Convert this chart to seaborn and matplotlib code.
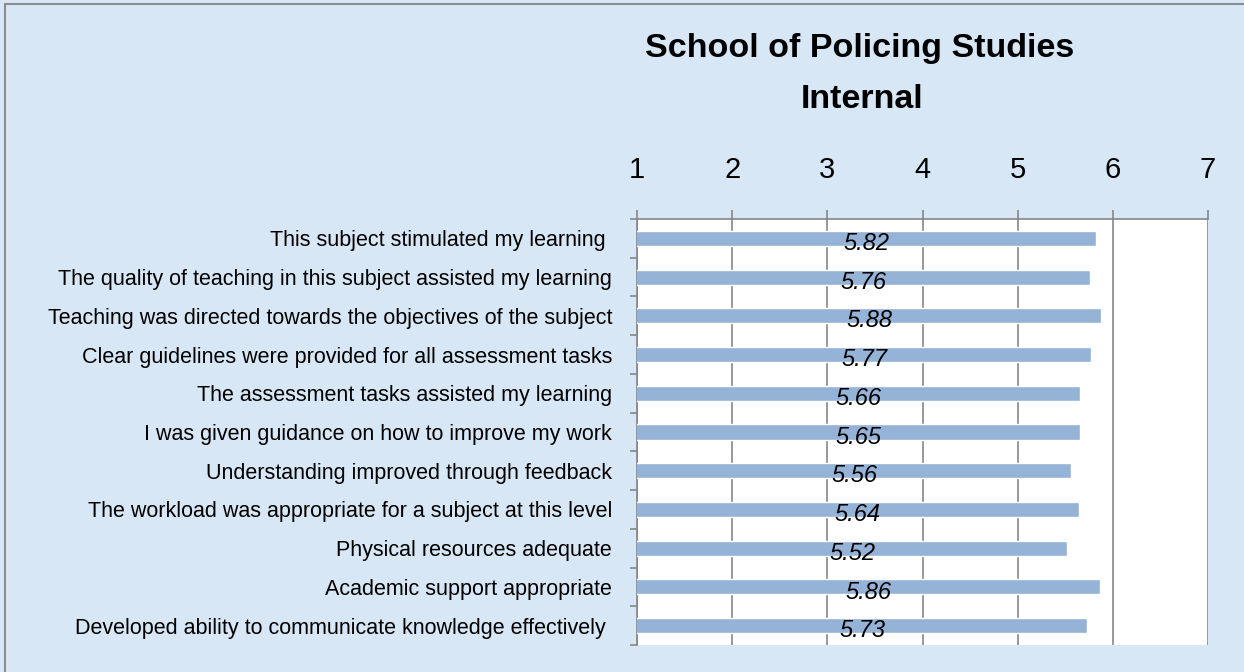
import matplotlib
matplotlib.use("Agg")
import matplotlib.pyplot as plt
import seaborn as sns
import pandas as pd
import numpy as np
from matplotlib.ticker import FixedLocator

categories = [
    "This subject stimulated my learning ",
    "The quality of teaching in this subject assisted my learning",
    "Teaching was directed towards the objectives of the subject",
    "Clear guidelines were provided for all assessment tasks",
    "The assessment tasks assisted my learning",
    "I was given guidance on how to improve my work",
    "Understanding improved through feedback",
    "The workload was appropriate for a subject at this level",
    "Physical resources adequate",
    "Academic support appropriate",
    "Developed ability to communicate knowledge effectively ",
]
values = [5.82, 5.76, 5.88, 5.77, 5.66, 5.65, 5.56, 5.64, 5.52, 5.86, 5.73]
x_ticks = [1, 2, 3, 4, 5, 6, 7]
title_lines = ["School of Policing Studies", "Internal"]

sns.set_theme(style="white")
fonts = ["Liberation Sans Narrow", "Liberation Sans", "DejaVu Sans"]
plt.rcParams["font.family"] = fonts
plt.rcParams["text.color"] = "black"
plt.rcParams["xtick.color"] = "black"
plt.rcParams["ytick.color"] = "black"

bg = "#d8e7f6"
bar_color = "#95b3d7"
grid_color = "#868686"

df = pd.DataFrame({"cat": categories, "val": values})

fig = plt.figure(figsize=(12.44, 6.72), dpi=100, facecolor=bg)
ax = fig.add_axes([637 / 1244, 1 - 645 / 672, (1208 - 637) / 1244, (645 - 219) / 672])
ax.set_facecolor("white")

sns.barplot(data=df, x="val", y="cat", orient="h", color=bar_color,
            width=0.39, saturation=1, ax=ax, zorder=3)

ax.set_xlim(x_ticks[0], x_ticks[-1])
ax.set_ylim(len(categories) - 0.5, -0.5)
ax.xaxis.tick_top()
ax.xaxis.set_major_locator(FixedLocator(x_ticks))
ax.set_xticklabels([str(t) for t in x_ticks], fontsize=21, color="black")
ax.tick_params(axis="x", which="major", direction="out", length=6.5, width=1.2,
               color=grid_color, pad=19, top=True, bottom=False, labelcolor="black")
ax.grid(axis="x", color=grid_color, linewidth=1.2, zorder=0)
ax.set_axisbelow(True)
ax.set_xlabel("")
ax.set_ylabel("")

ax.set_yticks(range(len(categories)))
ax.set_yticklabels(categories, fontsize=15.5, color="black")
ax.tick_params(axis="y", which="major", length=0, pad=18, labelcolor="black")
ax.yaxis.set_minor_locator(FixedLocator(np.arange(-0.5, len(categories), 1.0)))
ax.tick_params(axis="y", which="minor", direction="out", length=5, width=1.2,
               color=grid_color, left=True)

for side in ["right", "bottom"]:
    ax.spines[side].set_visible(False)
for side in ["top", "left"]:
    ax.spines[side].set_visible(True)
    ax.spines[side].set_color(grid_color)
    ax.spines[side].set_linewidth(1.2)

for i, v in enumerate(values):
    ax.text((x_ticks[0] + v) / 2, i + 0.30, f"{v:.2f}", ha="center", va="baseline",
            fontsize=17, fontstyle="italic", color="black", zorder=5)

fig.text(860 / 1244, 1 - 57 / 672, title_lines[0], ha="center", va="baseline",
         fontsize=24.5, fontweight="bold", color="black")
fig.text(862 / 1244, 1 - 108 / 672, title_lines[1], ha="center", va="baseline",
         fontsize=24.5, fontweight="bold", color="black")

# figure border (left/top)
fig.add_artist(plt.Line2D([5 / 1244, 5 / 1244], [0, 1 - 4 / 672], color="#8c8c8c",
                          linewidth=1.5, transform=fig.transFigure))
fig.add_artist(plt.Line2D([5 / 1244, 1], [1 - 4 / 672, 1 - 4 / 672], color="#8c8c8c",
                          linewidth=1.5, transform=fig.transFigure))

fig.savefig("out.png", dpi=100, facecolor=bg)
